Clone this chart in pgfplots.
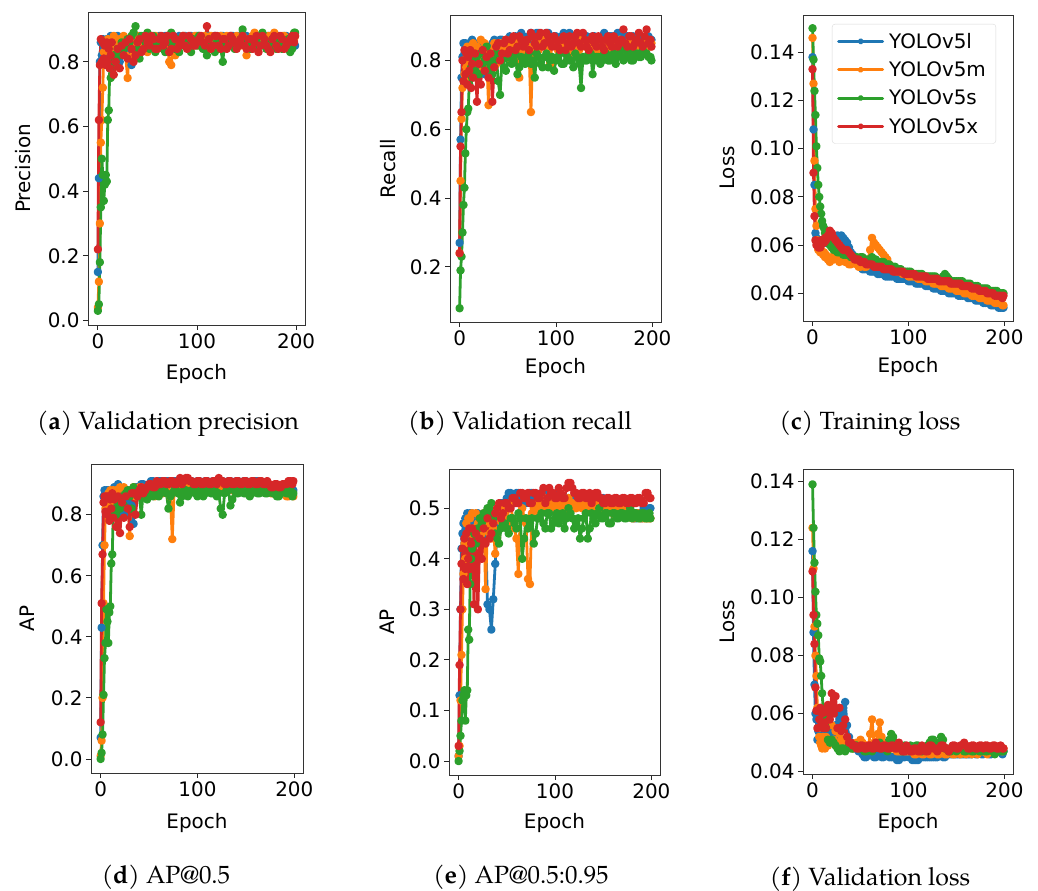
\documentclass[border=0pt]{standalone}
\usepackage{pgfplots}
\pgfplotsset{compat=1.18}
\usepackage{pgfplotstable}
\usepackage{fontspec}
\setmainfont{DejaVu Sans}
\newfontfamily\pal{TeX Gyre Pagella}
\definecolor{cL}{HTML}{1F77B4}
\definecolor{cM}{HTML}{FF7F0E}
\definecolor{cS}{HTML}{2CA02C}
\definecolor{cX}{HTML}{D62728}

\pgfplotstableread{
e L M S X
0 0.15 0.04 0.03 0.22
1 0.44 0.12 0.05 0.62
2 0.80 0.30 0.18 0.79
3 0.86 0.55 0.35 0.87
4 0.82 0.62 0.50 0.80
5 0.87 0.72 0.45 0.86
6 0.84 0.83 0.37 0.81
7 0.86 0.86 0.42 0.85
8 0.83 0.80 0.45 0.79
9 0.87 0.85 0.43 0.86
10 0.85 0.87 0.62 0.80
11 0.82 0.84 0.65 0.84
12 0.86 0.86 0.78 0.78
13 0.88 0.84 0.75 0.82
14 0.84 0.82 0.80 0.86
16 0.87 0.88 0.82 0.76
18 0.85 0.86 0.80 0.80
20 0.88 0.83 0.84 0.84
22 0.80 0.87 0.82 0.78
24 0.86 0.84 0.86 0.85
26 0.83 0.88 0.84 0.82
28 0.87 0.82 0.85 0.86
30 0.85 0.75 0.87 0.81
32 0.84 0.86 0.86 0.87
34 0.79 0.86 0.88 0.84
36 0.87 0.82 0.89 0.80
38 0.86 0.84 0.91 0.82
40 0.85 0.88 0.84 0.86
42 0.88 0.87 0.81 0.87
44 0.87 0.86 0.88 0.83
46 0.86 0.85 0.87 0.84
48 0.85 0.88 0.86 0.88
50 0.88 0.83 0.89 0.86
52 0.88 0.85 0.84 0.85
54 0.87 0.86 0.85 0.88
56 0.86 0.87 0.88 0.87
58 0.85 0.88 0.83 0.84
60 0.87 0.84 0.85 0.84
62 0.88 0.85 0.86 0.87
64 0.85 0.87 0.87 0.88
66 0.86 0.84 0.84 0.85
68 0.88 0.85 0.83 0.86
70 0.88 0.87 0.87 0.88
72 0.86 0.80 0.86 0.83
74 0.85 0.79 0.89 0.84
76 0.88 0.86 0.85 0.88
78 0.87 0.82 0.84 0.87
80 0.86 0.84 0.87 0.84
82 0.88 0.86 0.83 0.85
84 0.87 0.87 0.85 0.87
86 0.86 0.88 0.87 0.88
88 0.88 0.85 0.86 0.85
90 0.87 0.85 0.85 0.84
92 0.86 0.87 0.84 0.88
94 0.88 0.86 0.83 0.87
96 0.87 0.85 0.87 0.85
98 0.86 0.88 0.86 0.85
100 0.88 0.87 0.85 0.86
102 0.88 0.85 0.88 0.87
104 0.86 0.86 0.86 0.88
106 0.87 0.87 0.84 0.86
108 0.87 0.88 0.85 0.85
110 0.88 0.86 0.82 0.91
112 0.88 0.85 0.87 0.87
114 0.86 0.88 0.85 0.84
116 0.87 0.87 0.84 0.85
118 0.88 0.85 0.83 0.88
120 0.86 0.86 0.86 0.88
122 0.87 0.87 0.87 0.85
124 0.88 0.88 0.84 0.84
126 0.88 0.86 0.80 0.87
128 0.87 0.85 0.86 0.87
130 0.86 0.88 0.85 0.84
132 0.86 0.87 0.85 0.85
134 0.88 0.85 0.87 0.88
136 0.88 0.86 0.86 0.87
138 0.87 0.87 0.84 0.86
140 0.87 0.88 0.85 0.84
142 0.88 0.86 0.86 0.85
144 0.86 0.85 0.87 0.87
146 0.86 0.88 0.90 0.88
148 0.88 0.87 0.86 0.85
150 0.88 0.82 0.85 0.84
152 0.87 0.86 0.85 0.87
154 0.87 0.87 0.84 0.87
156 0.86 0.88 0.86 0.84
158 0.88 0.89 0.87 0.86
160 0.88 0.85 0.87 0.88
162 0.86 0.86 0.85 0.83
164 0.87 0.87 0.85 0.85
166 0.88 0.88 0.89 0.88
168 0.86 0.86 0.86 0.87
170 0.87 0.85 0.84 0.85
172 0.88 0.88 0.85 0.84
174 0.88 0.87 0.86 0.83
176 0.87 0.85 0.87 0.87
178 0.86 0.89 0.85 0.88
180 0.88 0.87 0.84 0.85
182 0.88 0.86 0.87 0.84
184 0.86 0.86 0.86 0.88
186 0.87 0.88 0.84 0.87
188 0.88 0.88 0.85 0.84
190 0.88 0.87 0.86 0.85
192 0.87 0.86 0.87 0.86
194 0.86 0.85 0.83 0.87
196 0.86 0.87 0.84 0.88
198 0.85 0.87 0.89 0.86
199 0.85 0.88 0.89 0.88
}\tA

\pgfplotstableread{
e L M S X
0 0.27 0.24 0.08 0.24
1 0.57 0.45 0.19 0.55
2 0.75 0.63 0.23 0.65
3 0.81 0.72 0.30 0.80
4 0.85 0.80 0.38 0.74
5 0.82 0.76 0.43 0.83
6 0.85 0.83 0.53 0.76
7 0.80 0.78 0.60 0.82
8 0.84 0.84 0.65 0.73
9 0.79 0.80 0.66 0.81
10 0.85 0.75 0.73 0.77
11 0.83 0.84 0.76 0.83
12 0.80 0.82 0.78 0.72
13 0.86 0.79 0.75 0.79
14 0.82 0.85 0.80 0.75
16 0.85 0.80 0.77 0.82
18 0.78 0.84 0.81 0.68
20 0.84 0.81 0.76 0.79
22 0.80 0.86 0.82 0.73
24 0.85 0.78 0.79 0.83
26 0.76 0.85 0.80 0.77
28 0.84 0.82 0.84 0.81
30 0.81 0.67 0.80 0.75
32 0.83 0.82 0.78 0.82
34 0.85 0.83 0.76 0.68
36 0.86 0.85 0.80 0.78
38 0.83 0.79 0.82 0.84
40 0.84 0.81 0.74 0.85
42 0.86 0.85 0.70 0.80
44 0.86 0.84 0.80 0.82
46 0.84 0.82 0.78 0.85
48 0.85 0.86 0.77 0.86
50 0.86 0.84 0.81 0.82
52 0.87 0.82 0.82 0.83
54 0.85 0.80 0.79 0.86
56 0.85 0.85 0.80 0.87
58 0.87 0.86 0.82 0.83
60 0.86 0.83 0.76 0.84
62 0.85 0.75 0.78 0.87
64 0.88 0.86 0.81 0.86
66 0.87 0.84 0.80 0.84
68 0.86 0.83 0.79 0.85
70 0.86 0.82 0.81 0.86
72 0.87 0.84 0.82 0.83
74 0.88 0.65 0.79 0.88
76 0.86 0.83 0.80 0.87
78 0.86 0.85 0.75 0.85
80 0.88 0.86 0.82 0.84
82 0.88 0.83 0.81 0.87
84 0.86 0.84 0.79 0.88
86 0.87 0.86 0.78 0.84
88 0.87 0.85 0.81 0.85
90 0.88 0.84 0.82 0.88
92 0.88 0.83 0.78 0.87
94 0.86 0.79 0.80 0.85
96 0.86 0.86 0.81 0.84
98 0.87 0.85 0.77 0.87
100 0.87 0.84 0.80 0.86
102 0.85 0.83 0.81 0.84
104 0.86 0.85 0.82 0.83
106 0.87 0.86 0.79 0.86
108 0.88 0.83 0.79 0.87
110 0.86 0.84 0.82 0.83
112 0.86 0.86 0.81 0.85
114 0.88 0.82 0.80 0.87
116 0.87 0.84 0.80 0.84
118 0.86 0.85 0.78 0.85
120 0.86 0.85 0.82 0.87
122 0.87 0.83 0.81 0.88
124 0.87 0.83 0.79 0.85
126 0.85 0.86 0.72 0.84
128 0.86 0.85 0.81 0.88
130 0.87 0.84 0.80 0.86
132 0.87 0.84 0.80 0.84
134 0.86 0.82 0.82 0.83
136 0.86 0.86 0.82 0.86
138 0.87 0.85 0.76 0.87
140 0.87 0.84 0.80 0.85
142 0.85 0.83 0.81 0.84
144 0.86 0.85 0.81 0.87
146 0.86 0.86 0.79 0.86
148 0.87 0.83 0.80 0.84
150 0.88 0.84 0.82 0.83
152 0.86 0.85 0.82 0.86
154 0.86 0.82 0.80 0.87
156 0.87 0.84 0.80 0.85
158 0.87 0.85 0.81 0.84
160 0.86 0.86 0.82 0.87
162 0.85 0.83 0.79 0.86
164 0.88 0.84 0.81 0.84
166 0.88 0.86 0.82 0.85
168 0.86 0.85 0.83 0.86
170 0.86 0.84 0.80 0.89
172 0.87 0.83 0.81 0.85
174 0.87 0.85 0.83 0.84
176 0.86 0.85 0.82 0.87
178 0.86 0.82 0.80 0.87
180 0.87 0.84 0.80 0.84
182 0.85 0.84 0.82 0.85
184 0.86 0.85 0.82 0.86
186 0.87 0.85 0.81 0.88
188 0.87 0.83 0.81 0.85
190 0.86 0.83 0.83 0.84
192 0.86 0.85 0.82 0.87
194 0.87 0.84 0.82 0.89
196 0.87 0.84 0.81 0.85
198 0.86 0.84 0.81 0.86
199 0.86 0.85 0.80 0.84
}\tB

\pgfplotstableread{
e L M S X
0 0.138 0.146 0.150 0.133
1 0.108 0.127 0.137 0.090
2 0.085 0.095 0.124 0.072
3 0.065 0.075 0.114 0.062
4 0.063 0.068 0.101 0.060
5 0.061 0.062 0.092 0.061
6 0.062 0.058 0.085 0.059
7 0.060 0.060 0.080 0.061
8 0.061 0.057 0.076 0.059
9 0.062 0.058 0.073 0.062
10 0.061 0.057 0.070 0.061
11 0.062 0.056 0.068 0.062
12 0.061 0.057 0.067 0.061
13 0.062 0.055 0.065 0.063
14 0.061 0.056 0.064 0.062
16 0.062 0.054 0.062 0.064
18 0.061 0.053 0.060 0.066
20 0.062 0.055 0.059 0.065
22 0.063 0.054 0.058 0.063
24 0.062 0.055 0.058 0.062
26 0.064 0.054 0.057 0.061
28 0.063 0.053 0.057 0.060
30 0.064 0.054 0.057 0.059
32 0.063 0.054 0.056 0.058
34 0.062 0.053 0.056 0.058
36 0.061 0.053 0.056 0.058
38 0.059 0.052 0.056 0.057
40 0.057 0.052 0.055 0.056
42 0.056 0.053 0.055 0.055
44 0.055 0.053 0.055 0.054
46 0.053 0.052 0.055 0.054
48 0.052 0.051 0.054 0.054
50 0.051 0.051 0.055 0.053
52 0.050 0.052 0.055 0.053
54 0.050 0.051 0.054 0.053
56 0.050 0.051 0.054 0.052
58 0.050 0.054 0.054 0.052
60 0.049 0.058 0.054 0.052
62 0.049 0.063 0.055 0.052
64 0.049 0.061 0.054 0.051
66 0.049 0.060 0.054 0.051
68 0.048 0.059 0.053 0.051
70 0.048 0.058 0.053 0.051
72 0.048 0.057 0.053 0.051
74 0.048 0.056 0.053 0.050
76 0.047 0.055 0.052 0.050
78 0.047 0.054 0.052 0.050
80 0.047 0.052 0.052 0.050
82 0.047 0.051 0.051 0.050
84 0.047 0.050 0.051 0.049
86 0.047 0.050 0.051 0.049
88 0.046 0.049 0.050 0.049
90 0.046 0.049 0.050 0.049
92 0.046 0.049 0.050 0.049
94 0.046 0.048 0.049 0.049
96 0.046 0.048 0.049 0.048
98 0.046 0.048 0.049 0.048
100 0.045 0.047 0.049 0.048
102 0.045 0.047 0.049 0.048
104 0.045 0.047 0.048 0.048
106 0.045 0.047 0.048 0.048
108 0.044 0.047 0.048 0.047
110 0.044 0.046 0.048 0.047
112 0.044 0.046 0.048 0.047
114 0.044 0.046 0.048 0.047
116 0.044 0.046 0.047 0.047
118 0.043 0.045 0.047 0.047
120 0.043 0.045 0.047 0.046
122 0.043 0.045 0.047 0.046
124 0.043 0.045 0.047 0.046
126 0.042 0.044 0.047 0.046
128 0.042 0.044 0.047 0.046
130 0.042 0.044 0.046 0.046
132 0.042 0.044 0.046 0.045
134 0.041 0.043 0.046 0.045
136 0.041 0.043 0.047 0.045
138 0.041 0.043 0.048 0.045
140 0.041 0.043 0.047 0.045
142 0.040 0.042 0.046 0.045
144 0.040 0.042 0.045 0.044
146 0.040 0.042 0.045 0.044
148 0.040 0.042 0.045 0.044
150 0.040 0.041 0.045 0.044
152 0.039 0.041 0.045 0.044
154 0.039 0.041 0.045 0.044
156 0.039 0.041 0.045 0.043
158 0.039 0.040 0.044 0.043
160 0.039 0.040 0.044 0.043
162 0.038 0.040 0.044 0.043
164 0.038 0.040 0.044 0.043
166 0.038 0.039 0.043 0.042
168 0.038 0.039 0.043 0.042
170 0.037 0.039 0.043 0.042
172 0.037 0.039 0.043 0.042
174 0.037 0.038 0.042 0.041
176 0.037 0.038 0.042 0.041
178 0.036 0.038 0.042 0.041
180 0.036 0.038 0.042 0.041
182 0.036 0.037 0.042 0.040
184 0.036 0.037 0.041 0.040
186 0.035 0.037 0.041 0.040
188 0.035 0.037 0.041 0.040
190 0.035 0.036 0.041 0.039
192 0.035 0.036 0.041 0.039
194 0.034 0.036 0.040 0.039
196 0.034 0.036 0.040 0.039
198 0.034 0.035 0.040 0.038
199 0.034 0.035 0.040 0.039
}\tC

\pgfplotstableread{
e L M S X
0 0.07 0.01 0.00 0.12
1 0.43 0.06 0.02 0.51
2 0.70 0.20 0.08 0.67
3 0.86 0.51 0.21 0.84
4 0.88 0.70 0.33 0.86
5 0.84 0.82 0.38 0.81
6 0.88 0.86 0.49 0.86
7 0.86 0.84 0.45 0.80
8 0.88 0.87 0.38 0.86
9 0.85 0.85 0.48 0.78
10 0.87 0.88 0.50 0.85
11 0.83 0.86 0.64 0.82
12 0.88 0.84 0.67 0.87
13 0.86 0.88 0.80 0.79
14 0.89 0.86 0.82 0.85
16 0.87 0.88 0.80 0.76
18 0.90 0.87 0.84 0.86
20 0.85 0.89 0.82 0.74
22 0.88 0.86 0.86 0.84
24 0.80 0.89 0.83 0.79
26 0.87 0.88 0.87 0.86
28 0.84 0.87 0.88 0.82
30 0.88 0.73 0.86 0.76
32 0.83 0.88 0.82 0.87
34 0.77 0.89 0.89 0.87
36 0.89 0.86 0.88 0.80
38 0.89 0.88 0.87 0.86
40 0.88 0.89 0.86 0.88
42 0.90 0.89 0.80 0.89
44 0.90 0.87 0.88 0.87
46 0.89 0.88 0.87 0.88
48 0.89 0.89 0.85 0.89
50 0.90 0.89 0.88 0.90
52 0.91 0.88 0.87 0.90
54 0.91 0.87 0.86 0.89
56 0.90 0.86 0.88 0.89
58 0.90 0.89 0.88 0.91
60 0.91 0.89 0.86 0.90
62 0.91 0.88 0.87 0.90
64 0.90 0.87 0.88 0.91
66 0.90 0.89 0.88 0.91
68 0.91 0.89 0.87 0.90
70 0.91 0.87 0.82 0.90
72 0.90 0.86 0.86 0.91
74 0.90 0.72 0.87 0.91
76 0.91 0.89 0.88 0.90
78 0.91 0.89 0.88 0.90
80 0.90 0.88 0.87 0.91
82 0.90 0.88 0.84 0.92
84 0.91 0.89 0.86 0.90
86 0.91 0.90 0.88 0.91
88 0.90 0.88 0.88 0.92
90 0.90 0.89 0.86 0.92
92 0.91 0.89 0.87 0.91
94 0.91 0.88 0.88 0.91
96 0.90 0.88 0.88 0.90
98 0.90 0.90 0.87 0.90
100 0.91 0.89 0.86 0.91
102 0.91 0.89 0.88 0.91
104 0.90 0.88 0.88 0.90
106 0.90 0.88 0.86 0.90
108 0.91 0.89 0.87 0.91
110 0.91 0.90 0.88 0.91
112 0.90 0.88 0.88 0.90
114 0.90 0.89 0.87 0.90
116 0.91 0.89 0.87 0.91
118 0.91 0.88 0.88 0.91
120 0.90 0.88 0.86 0.90
122 0.90 0.90 0.87 0.92
124 0.91 0.89 0.82 0.91
126 0.91 0.89 0.80 0.91
128 0.90 0.88 0.87 0.90
130 0.90 0.88 0.88 0.90
132 0.91 0.89 0.88 0.91
134 0.91 0.90 0.83 0.91
136 0.90 0.88 0.85 0.90
138 0.90 0.89 0.88 0.90
140 0.91 0.89 0.87 0.91
142 0.91 0.88 0.87 0.91
144 0.90 0.88 0.88 0.90
146 0.90 0.89 0.88 0.90
148 0.91 0.89 0.87 0.91
150 0.91 0.88 0.87 0.91
152 0.90 0.88 0.88 0.90
154 0.90 0.89 0.86 0.90
156 0.90 0.89 0.87 0.91
158 0.90 0.88 0.88 0.91
160 0.91 0.88 0.88 0.90
162 0.91 0.89 0.87 0.90
164 0.90 0.89 0.87 0.91
166 0.90 0.88 0.88 0.91
168 0.90 0.88 0.88 0.90
170 0.90 0.89 0.87 0.90
172 0.89 0.88 0.87 0.91
174 0.89 0.88 0.88 0.90
176 0.89 0.87 0.88 0.89
178 0.89 0.87 0.87 0.89
180 0.88 0.87 0.87 0.90
182 0.88 0.87 0.86 0.90
184 0.89 0.88 0.86 0.89
186 0.89 0.88 0.87 0.89
188 0.88 0.87 0.88 0.90
190 0.88 0.87 0.88 0.90
192 0.89 0.86 0.87 0.90
194 0.89 0.86 0.87 0.91
196 0.88 0.87 0.88 0.91
198 0.88 0.87 0.86 0.90
199 0.88 0.86 0.87 0.91
}\tD

\pgfplotstableread{
e L M S X
0 0.01 0.01 0.00 0.03
1 0.13 0.03 0.02 0.19
2 0.30 0.12 0.05 0.30
3 0.42 0.21 0.08 0.39
4 0.45 0.30 0.12 0.42
5 0.47 0.37 0.13 0.36
6 0.44 0.43 0.14 0.44
7 0.48 0.40 0.08 0.38
8 0.46 0.47 0.13 0.45
9 0.49 0.45 0.14 0.35
10 0.48 0.48 0.26 0.40
11 0.46 0.46 0.24 0.46
12 0.49 0.48 0.35 0.38
13 0.47 0.45 0.40 0.43
14 0.49 0.49 0.42 0.46
16 0.48 0.46 0.45 0.31
18 0.47 0.49 0.43 0.45
20 0.49 0.47 0.46 0.30
22 0.46 0.48 0.48 0.44
24 0.48 0.45 0.47 0.40
26 0.47 0.49 0.49 0.46
28 0.45 0.34 0.48 0.43
30 0.31 0.47 0.50 0.48
32 0.30 0.45 0.49 0.44
34 0.26 0.44 0.51 0.45
36 0.32 0.46 0.48 0.47
38 0.39 0.41 0.45 0.49
40 0.46 0.44 0.44 0.50
42 0.50 0.49 0.43 0.51
44 0.51 0.50 0.46 0.48
46 0.51 0.50 0.47 0.49
48 0.50 0.48 0.47 0.51
50 0.52 0.47 0.46 0.51
52 0.53 0.50 0.45 0.50
54 0.53 0.51 0.48 0.50
56 0.52 0.48 0.48 0.52
58 0.51 0.46 0.47 0.52
60 0.53 0.44 0.46 0.51
62 0.53 0.37 0.49 0.51
64 0.52 0.49 0.48 0.53
66 0.52 0.50 0.40 0.53
68 0.51 0.48 0.44 0.52
70 0.51 0.47 0.48 0.52
72 0.52 0.36 0.46 0.53
74 0.53 0.35 0.47 0.51
76 0.53 0.49 0.48 0.51
78 0.52 0.50 0.43 0.53
80 0.52 0.50 0.45 0.53
82 0.51 0.51 0.48 0.52
84 0.51 0.49 0.48 0.52
86 0.53 0.50 0.49 0.53
88 0.52 0.51 0.47 0.54
90 0.52 0.52 0.46 0.51
92 0.53 0.50 0.49 0.52
94 0.51 0.50 0.49 0.54
96 0.52 0.51 0.46 0.53
98 0.52 0.51 0.47 0.53
100 0.51 0.50 0.48 0.52
102 0.53 0.52 0.49 0.52
104 0.52 0.51 0.47 0.54
106 0.52 0.50 0.48 0.53
108 0.51 0.52 0.49 0.52
110 0.51 0.51 0.46 0.52
112 0.52 0.50 0.48 0.54
114 0.52 0.52 0.50 0.55
116 0.51 0.51 0.49 0.55
118 0.51 0.51 0.48 0.54
120 0.52 0.50 0.46 0.53
122 0.52 0.50 0.47 0.53
124 0.51 0.51 0.48 0.52
126 0.51 0.52 0.44 0.52
128 0.52 0.50 0.46 0.53
130 0.52 0.51 0.48 0.53
132 0.51 0.51 0.49 0.52
134 0.51 0.50 0.44 0.52
136 0.52 0.50 0.46 0.53
138 0.52 0.51 0.49 0.51
140 0.51 0.51 0.48 0.52
142 0.51 0.50 0.47 0.53
144 0.52 0.50 0.49 0.53
146 0.51 0.51 0.50 0.52
148 0.51 0.50 0.48 0.52
150 0.52 0.50 0.48 0.51
152 0.51 0.51 0.49 0.51
154 0.50 0.51 0.49 0.52
156 0.50 0.50 0.47 0.52
158 0.51 0.50 0.47 0.51
160 0.51 0.49 0.49 0.51
162 0.50 0.49 0.49 0.52
164 0.50 0.50 0.48 0.52
166 0.51 0.50 0.48 0.51
168 0.51 0.49 0.49 0.51
170 0.50 0.49 0.49 0.52
172 0.50 0.50 0.48 0.52
174 0.50 0.50 0.48 0.51
176 0.49 0.49 0.49 0.51
178 0.49 0.49 0.50 0.52
180 0.49 0.48 0.48 0.52
182 0.48 0.48 0.49 0.51
184 0.48 0.49 0.49 0.51
186 0.49 0.49 0.48 0.52
188 0.49 0.48 0.48 0.52
190 0.48 0.48 0.49 0.51
192 0.50 0.48 0.49 0.51
194 0.50 0.48 0.48 0.53
196 0.49 0.48 0.48 0.53
198 0.50 0.48 0.49 0.52
199 0.50 0.48 0.48 0.52
}\tE

\pgfplotstableread{
e L M S X
0 0.116 0.124 0.139 0.109
1 0.088 0.110 0.124 0.094
2 0.070 0.090 0.112 0.084
3 0.060 0.080 0.102 0.069
4 0.058 0.073 0.094 0.061
5 0.051 0.062 0.091 0.055
6 0.054 0.055 0.087 0.061
7 0.056 0.052 0.079 0.058
8 0.053 0.050 0.078 0.062
9 0.057 0.049 0.073 0.056
10 0.054 0.048 0.067 0.060
11 0.052 0.052 0.062 0.055
12 0.055 0.049 0.058 0.061
13 0.053 0.048 0.056 0.057
14 0.056 0.052 0.055 0.055
16 0.054 0.049 0.051 0.063
18 0.052 0.050 0.050 0.058
20 0.055 0.056 0.051 0.067
22 0.053 0.051 0.050 0.060
24 0.056 0.054 0.049 0.066
26 0.052 0.050 0.048 0.055
28 0.058 0.053 0.047 0.062
30 0.060 0.051 0.048 0.054
32 0.062 0.050 0.048 0.056
34 0.064 0.049 0.047 0.058
36 0.056 0.049 0.048 0.052
38 0.052 0.050 0.049 0.050
40 0.050 0.049 0.048 0.050
42 0.049 0.048 0.048 0.049
44 0.048 0.049 0.049 0.049
46 0.048 0.050 0.049 0.048
48 0.047 0.050 0.048 0.048
50 0.047 0.051 0.048 0.049
52 0.046 0.050 0.048 0.049
54 0.045 0.049 0.047 0.048
56 0.045 0.049 0.047 0.048
58 0.046 0.048 0.048 0.049
60 0.046 0.053 0.048 0.049
62 0.046 0.058 0.047 0.048
64 0.045 0.050 0.048 0.048
66 0.045 0.050 0.049 0.050
68 0.046 0.053 0.049 0.049
70 0.046 0.057 0.050 0.048
72 0.045 0.052 0.048 0.048
74 0.045 0.049 0.048 0.049
76 0.046 0.049 0.048 0.049
78 0.046 0.050 0.047 0.048
80 0.045 0.049 0.051 0.048
82 0.045 0.048 0.053 0.049
84 0.045 0.048 0.052 0.049
86 0.045 0.049 0.050 0.048
88 0.044 0.047 0.049 0.048
90 0.044 0.047 0.049 0.050
92 0.045 0.047 0.048 0.048
94 0.045 0.048 0.047 0.047
96 0.045 0.047 0.049 0.047
98 0.046 0.047 0.048 0.049
100 0.045 0.047 0.048 0.048
102 0.045 0.048 0.049 0.047
104 0.044 0.047 0.048 0.047
106 0.044 0.046 0.048 0.048
108 0.044 0.046 0.049 0.048
110 0.044 0.047 0.049 0.047
112 0.045 0.047 0.048 0.047
114 0.045 0.046 0.047 0.049
116 0.045 0.046 0.048 0.048
118 0.045 0.047 0.048 0.047
120 0.045 0.047 0.049 0.047
122 0.045 0.046 0.050 0.049
124 0.045 0.046 0.051 0.049
126 0.045 0.047 0.051 0.048
128 0.045 0.047 0.049 0.048
130 0.045 0.046 0.049 0.047
132 0.046 0.046 0.050 0.048
134 0.046 0.047 0.052 0.049
136 0.045 0.047 0.051 0.049
138 0.045 0.046 0.048 0.048
140 0.046 0.046 0.048 0.048
142 0.046 0.047 0.047 0.047
144 0.046 0.047 0.047 0.048
146 0.046 0.046 0.048 0.049
148 0.046 0.046 0.048 0.049
150 0.046 0.047 0.047 0.048
152 0.046 0.047 0.048 0.048
154 0.046 0.046 0.048 0.049
156 0.046 0.047 0.048 0.049
158 0.046 0.047 0.047 0.050
160 0.046 0.046 0.047 0.049
162 0.046 0.047 0.048 0.048
164 0.046 0.047 0.048 0.048
166 0.046 0.046 0.047 0.049
168 0.047 0.047 0.047 0.049
170 0.046 0.047 0.048 0.048
172 0.046 0.046 0.048 0.048
174 0.047 0.047 0.047 0.049
176 0.046 0.047 0.047 0.049
178 0.046 0.047 0.048 0.048
180 0.047 0.047 0.047 0.049
182 0.047 0.046 0.047 0.049
184 0.046 0.047 0.048 0.048
186 0.046 0.047 0.048 0.048
188 0.047 0.047 0.047 0.049
190 0.047 0.047 0.046 0.049
192 0.047 0.047 0.047 0.048
194 0.047 0.048 0.047 0.048
196 0.047 0.048 0.047 0.049
198 0.046 0.047 0.048 0.048
199 0.047 0.048 0.047 0.048
}\tF

\pgfplotsset{
  yolo/.style={
    scale only axis,
    xmin=-9.95, xmax=208.95, xtick={0,100,200},
    tick align=outside, xtick pos=bottom, ytick pos=left,
    major tick length=5bp,
    every tick/.style={black!85, line width=0.9bp},
    axis line style={black!80, line width=0.9bp},
    tick label style={font=\fontsize{20}{24}\selectfont},
    label style={font=\fontsize{20}{24}\selectfont},
    /pgf/number format/assume math mode=true,
    xlabel=Epoch,
  },
  ser/.style={line width=2.8bp, line join=round, line cap=round, mark=*, mark size=2.8bp, mark options={solid}},
  p1/.style={yticklabel style={/pgf/number format/.cd, fixed, fixed zerofill, precision=1}},
  p2/.style={yticklabel style={/pgf/number format/.cd, fixed, fixed zerofill, precision=2}},
}
\newcommand{\four}[1]{%
  \addplot[ser, color=cL] table[x=e, y=L] {#1};
  \addplot[ser, color=cM] table[x=e, y=M] {#1};
  \addplot[ser, color=cS] table[x=e, y=S] {#1};
  \addplot[ser, color=cX] table[x=e, y=X] {#1};
}

\begin{document}
\begin{tikzpicture}
\path[use as bounding box] (0,0) rectangle (1038bp,891bp);

% (a)
\begin{axis}[yolo, p1, at={(88bp,566bp)}, anchor=south west,
  width=217bp, height=313bp, ymin=-0.014, ymax=0.954,
  ytick={0,0.2,0.4,0.6,0.8}, ylabel=Precision,
  ylabel style={at={(axis description cs:-0.30,0.5)}, anchor=center},
  xlabel style={at={(axis description cs:0.5,-0.157)}, anchor=center}]
\four{\tA}
\end{axis}

% (b)
\begin{axis}[yolo, p1, at={(450bp,569bp)}, anchor=south west,
  width=211bp, height=307bp, ymin=0.04, ymax=0.932,
  ytick={0.2,0.4,0.6,0.8}, ylabel=Recall,
  ylabel style={at={(axis description cs:-0.294,0.5)}, anchor=center},
  xlabel style={at={(axis description cs:0.5,-0.15)}, anchor=center}]
\four{\tB}
\end{axis}

% (c)
\begin{axis}[yolo, p2, at={(803bp,570bp)}, anchor=south west,
  width=210bp, height=306bp, ymin=0.0285, ymax=0.1555,
  ytick={0.04,0.06,0.08,0.10,0.12,0.14}, ylabel=Loss,
  ylabel style={at={(axis description cs:-0.362,0.5)}, anchor=center},
  xlabel style={at={(axis description cs:0.5,-0.15)}, anchor=center},
  legend cell align=left,
  legend style={at={(axis description cs:0.138,0.971)}, anchor=north west,
    draw=black!15, rounded corners=3bp, fill=white, fill opacity=0.8, text opacity=1,
    font=\fontsize{20}{24}\selectfont, row sep=8bp, inner xsep=5bp, inner ysep=7bp,
    nodes={inner xsep=5bp}},
  legend image code/.code={\draw[line width=3bp, mark repeat=2, mark phase=2, mark size=1.6bp]
    plot coordinates {(0bp,0bp) (22bp,0bp) (44bp,0bp)};}]
\four{\tC}
\legend{YOLOv5l, YOLOv5m, YOLOv5s, YOLOv5x}
\end{axis}

% (d)
\begin{axis}[yolo, p1, at={(91bp,118bp)}, anchor=south west,
  width=212bp, height=309bp, ymin=-0.046, ymax=0.966,
  ytick={0,0.2,0.4,0.6,0.8}, ylabel=AP,
  ylabel style={at={(axis description cs:-0.302,0.5)}, anchor=center},
  xlabel style={at={(axis description cs:0.5,-0.162)}, anchor=center}]
\four{\tD}
\end{axis}

% (e)
\begin{axis}[yolo, p1, at={(449bp,116bp)}, anchor=south west,
  width=211bp, height=306bp, ymin=-0.0275, ymax=0.5775,
  ytick={0,0.1,0.2,0.3,0.4,0.5}, ylabel=AP,
  ylabel style={at={(axis description cs:-0.294,0.5)}, anchor=center},
  xlabel style={at={(axis description cs:0.5,-0.157)}, anchor=center}]
\four{\tE}
\end{axis}

% (f)
\begin{axis}[yolo, p2, at={(803bp,117bp)}, anchor=south west,
  width=210bp, height=305bp, ymin=0.0392, ymax=0.1443,
  ytick={0.04,0.06,0.08,0.10,0.12,0.14}, ylabel=Loss,
  ylabel style={at={(axis description cs:-0.362,0.5)}, anchor=center},
  xlabel style={at={(axis description cs:0.5,-0.16)}, anchor=center}]
\four{\tF}
\end{axis}

% captions
\tikzset{captext/.style={font=\pal\fontsize{25}{29}\selectfont, anchor=base, inner sep=0pt}}
\node[captext] at (168bp,461bp) {(\textbf{a}) Validation precision};
\node[captext] at (520bp,461bp) {(\textbf{b}) Validation recall};
\node[captext] at (870bp,461bp) {(\textbf{c}) Training loss};
\node[captext] at (166bp,8bp) {(\textbf{d}) AP@0.5};
\node[captext] at (521bp,8bp) {(\textbf{e}) AP@0.5:0.95};
\node[captext] at (870bp,6bp) {(\textbf{f}) Validation loss};
\end{tikzpicture}
\end{document}
